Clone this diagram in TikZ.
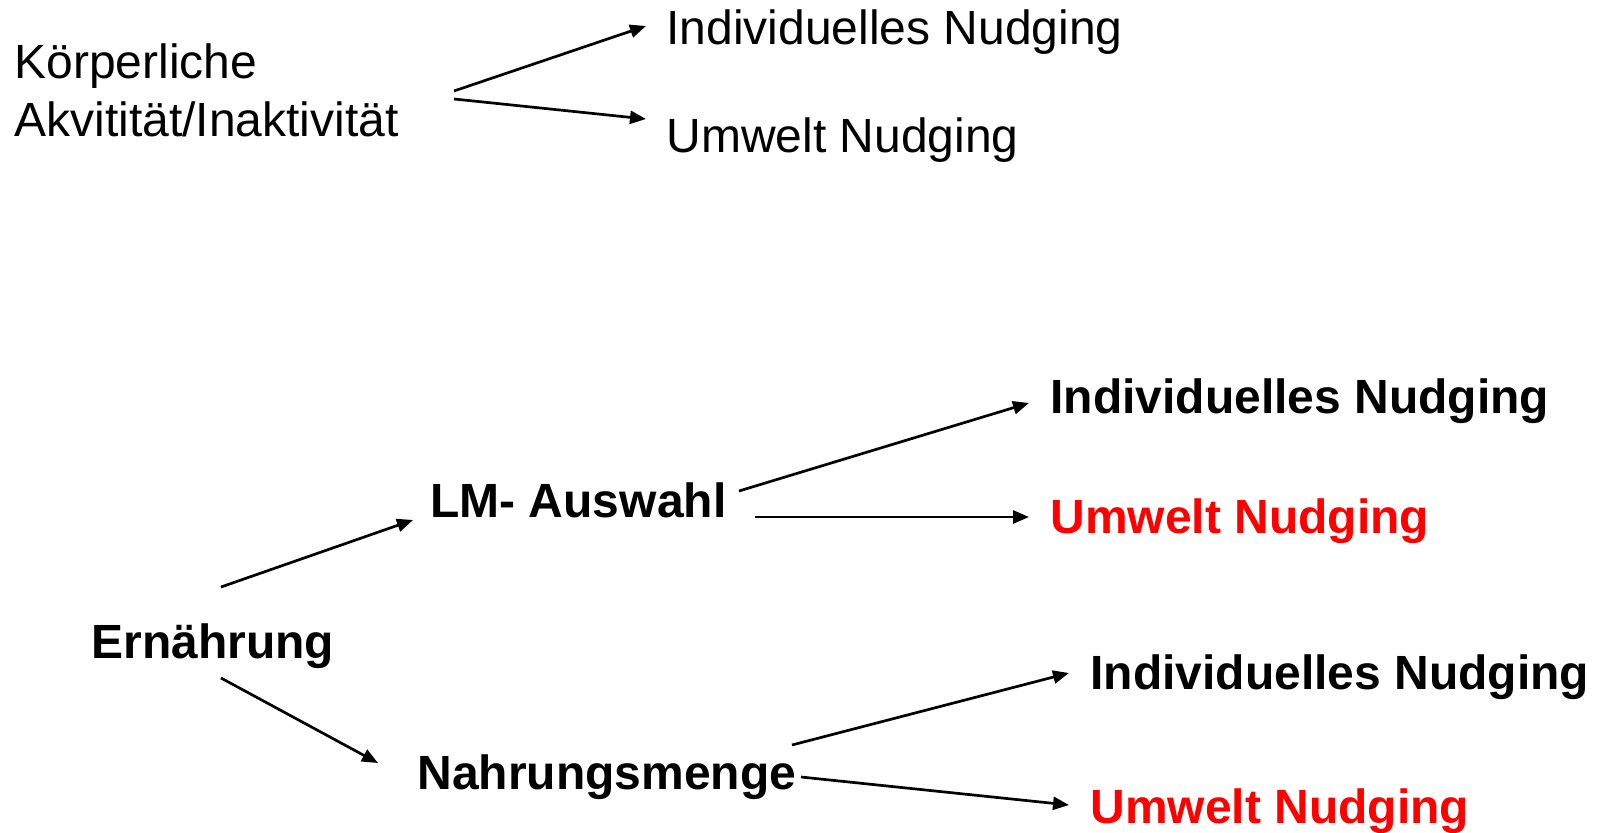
\documentclass[tikz,border=0pt]{standalone}
\usepackage{fontspec}
\setmainfont{Liberation Sans}
\usepackage{xcolor}
\definecolor{nudgered}{rgb}{1, 0, 0}
\usetikzlibrary{arrows.meta, positioning}
\tikzstyle{txt} = [anchor=base west,inner sep=0pt,font=\fontsize{24}{29}\selectfont]
\tikzstyle{btxt} = [txt,font=\fontsize{24}{29}\selectfont\bfseries]
\tikzstyle{link} = [line width=1.35pt,-{Triangle[length=8pt,width=6.5pt]}]

\begin{document}
\begin{tikzpicture}[x=0.5pt,y=-0.5pt]
  \useasboundingbox (0,0) rectangle (1606,833);
  % top: Bewegung
  \node (koerper) [txt,align=left] at (14,137) {K\"orperliche\\Akvitit\"at/Inaktivit\"at};
  \node (topind) [txt] at (666,45) {Individuelles Nudging};
  \node (topumw) [txt] at (666,153) {Umwelt Nudging};
  \draw [link] ([shift={(440,-46)}]koerper.base west) -- ([shift={(-20,-19)}]topind.base west);
  \draw [link] ([shift={(440,-38)}]koerper.base west) -- ([shift={(-20,-34)}]topumw.base west);
  % bottom: Ernaehrung
  \node (ern) [btxt] at (91,658) {Ern\"ahrung};
  \node (lm) [btxt] at (430,518) {LM- Auswahl};
  \node (nahr) [btxt] at (417,789) {Nahrungsmenge};
  \node (ind1) [btxt] at (1050,414) {Individuelles Nudging};
  \node (umw1) [btxt,text=nudgered] at (1050,534) {Umwelt Nudging};
  \node (ind2) [btxt] at (1090,689) {Individuelles Nudging};
  \node (umw2) [btxt,text=nudgered] at (1090,823) {Umwelt Nudging};
  \draw [link] ([shift={(130,-71)}]ern.base west) -- ([shift={(-17,2)}]lm.base west);
  \draw [link] ([shift={(130,20)}]ern.base west) -- ([shift={(-39,-26)}]nahr.base west);
  \draw [link] ([shift={(309,-27)}]lm.base west) -- ([shift={(-21,-11)}]ind1.base west);
  \draw [link] ([shift={(325,-1)}]lm.base west) -- ([shift={(-21,-17)}]umw1.base west);
  \draw [link] ([shift={(375,-44)}]nahr.base west) -- ([shift={(-21,-16)}]ind2.base west);
  \draw [link] ([shift={(384,-12)}]nahr.base west) -- ([shift={(-21,-18)}]umw2.base west);
\end{tikzpicture}
\end{document}
